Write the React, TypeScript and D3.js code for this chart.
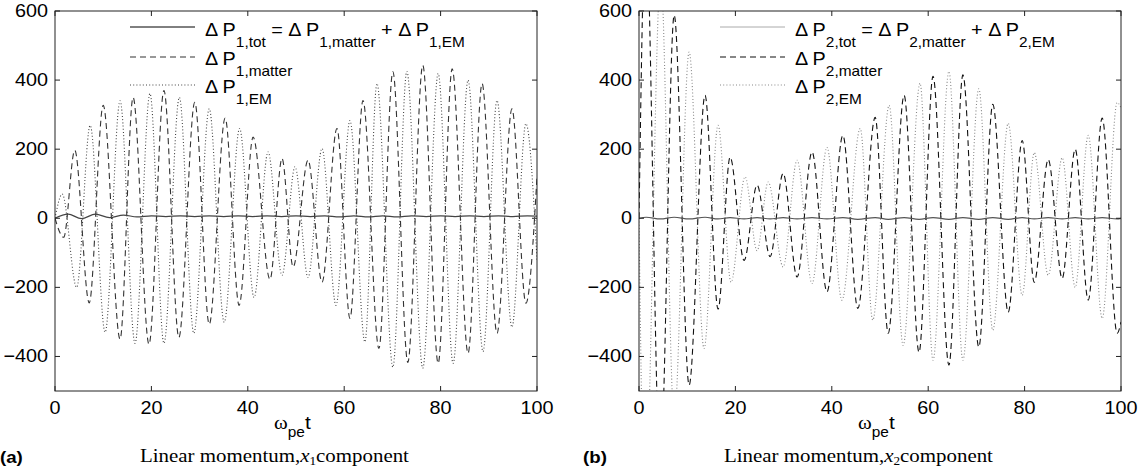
import React from "react";
import * as d3 from "d3";

const W = 1147;
const H = 470;
const SANS = "'Liberation Sans', Arial, Helvetica, sans-serif";
const SERIF = "'Liberation Serif', 'Times New Roman', serif";
const SX = 1.1; // the original is a bit stretched horizontally

const xTicks = [0, 20, 40, 60, 80, 100];
const yTicks = [-400, -200, 0, 200, 400, 600];

type Pt = [number, number];

// panel (a) – turning points, [omega_pe t, value]
const p1Tot: Pt[] = [
  [0, 0], [2.7, 12], [5.5, -1], [8.4, 12], [11.3, 2], [14.2, 9], [17, 4], [20, 7],
  [23, 5], [26, 7], [29, 5], [32, 7], [35, 5], [38, 7], [41, 5], [44, 7], [47, 5],
  [50, 7], [53, 5], [56, 7], [59, 4], [62, 7], [65, 4], [68, 7], [71, 4], [74, 7],
  [77, 5], [80, 7], [83, 5], [86, 7], [89, 5], [92, 7], [95, 5], [98, 7], [100, 6],
];
const p1Matter: Pt[] = [
  [0, 0], [1.8, -55], [4.1, 197], [7.1, -245], [10.0, 327], [13.5, -350], [16.2, 350],
  [19.5, -365], [22.6, 370], [25.7, -345], [29.0, 336], [32.0, -307], [35.3, 290],
  [38.2, -252], [41.1, 235], [44.6, -177], [47.1, 173], [49.4, -141], [52.5, 168],
  [55.4, -185], [58.5, 260], [61.2, -290], [63.9, 341], [67.2, -377], [70.1, 424],
  [73.2, -417], [76.3, 443], [79.5, -420], [82.4, 433], [85.7, -391], [88.6, 390],
  [91.7, -333], [94.8, 317], [97.7, -246], [100, 120],
];
const p1Em: Pt[] = [
  [0, 0], [1.5, 70], [4.5, -200], [7.3, 269], [10.4, -330], [13.5, 340], [16.6, -362],
  [19.7, 361], [22.6, -362], [25.8, 350], [28.8, -333], [32.0, 317], [35.1, -301],
  [38.3, 260], [41.3, -229], [44.2, 192], [47.1, -165], [49.8, 149], [52.5, -171],
  [55.4, 202], [58.3, -252], [61.2, 283], [64.3, -358], [66.8, 390], [70.1, -431],
  [73.0, 425], [76.3, -434], [79.5, 419], [82.6, -420], [85.7, 400], [88.8, -386],
  [91.7, 341], [94.8, -315], [97.7, 274], [100, -120],
];

// panel (b)
const p2Tot: Pt[] = [
  [0, 0], [1.5, 3], [4.4, -2], [7.3, 3], [10.4, -2], [13.7, 3], [16.4, -2], [18.9, 2],
  [21.8, -2], [24.5, 2], [27.2, -2], [29.9, 2], [32.8, -2], [35.9, 2], [39.0, -2],
  [42.3, 2], [45.4, -3], [49.0, 2], [51.7, -3], [55.0, 2], [58.1, -3], [61.0, 2],
  [64.3, -3], [67.2, 2], [70.5, -3], [73.4, 2], [76.6, -3], [79.5, 2], [82.0, -2],
  [84.9, 2], [87.8, -2], [90.5, 2], [93.2, -2], [96.1, 2], [99.2, -2], [100, 0],
];
const p2Matter: Pt[] = [
  [0, 0], [1.4, 850], [4.4, -720], [7.3, 588], [10.4, -483], [13.7, 356], [16.4, -263],
  [18.9, 177], [21.8, -122], [24.5, 96], [27.2, -111], [29.9, 130], [32.8, -170],
  [35.9, 192], [39.0, -213], [42.3, 240], [45.4, -261], [49.0, 292], [51.7, -333],
  [55.0, 356], [58.1, -388], [61.0, 411], [64.3, -425], [67.2, 415], [70.5, -373],
  [73.4, 330], [76.6, -272], [79.5, 225], [82.0, -185], [84.9, 170], [87.8, -174],
  [90.5, 200], [93.2, -237], [96.1, 290], [99.2, -333], [100, -300],
];
const p2Em: Pt[] = [
  [0, 0], [1.2, -850], [4.5, 700], [7.3, -580], [10.4, 481], [13.5, -377], [16.4, 269],
  [19.1, -185], [22.0, 120], [24.5, -94], [26.8, 105], [29.9, -141], [32.8, 168],
  [35.9, -189], [39.0, 205], [42.1, -237], [45.9, 260], [48.5, -295], [51.9, 327],
  [54.8, -368], [58.3, 391], [61.0, -411], [64.3, 425], [67.2, -411], [70.5, 375],
  [73.4, -324], [76.6, 275], [79.5, -223], [82.0, 190], [84.9, -165], [87.8, 175],
  [90.5, -200], [93.2, 240], [96.1, -290], [99.2, 335], [100, 320],
];

const TOP = 11;
const BOTTOM = 391;

const panels = [
  {
    id: "a", idx: "1", left: 55, right: 537, tag: "(a)", tagX: 0,
    tot: p1Tot, matter: p1Matter, em: p1Em,
    totColor: "#444", totLegend: "#000", dashColor: "#333", dotColor: "#444",
    legX: 130, capX: 140,
  },
  {
    id: "b", idx: "2", left: 639, right: 1121, tag: "(b)", tagX: 583,
    tot: p2Tot, matter: p2Matter, em: p2Em,
    totColor: "#555", totLegend: "#aaa", dashColor: "#111", dotColor: "#888",
    legX: 720, capX: 724,
  },
];

type Part = { s: string; sub?: boolean };

const SubText = ({ x, y, parts, size = 18, subSize = 14, shift = 11 }:
  { x: number; y: number; parts: Part[]; size?: number; subSize?: number; shift?: number }) => {
  let prevSub = false;
  return (
    <text transform={`translate(${x},${y}) scale(${SX},1)`} fontFamily={SANS} fontSize={size}
      style={{ whiteSpace: "pre" }} fill="#000">
      {parts.map((p, i) => {
        const dy = p.sub && !prevSub ? shift : !p.sub && prevSub ? -shift : 0;
        prevSub = !!p.sub;
        return (
          <tspan key={i} dy={dy} fontSize={p.sub ? subSize : size}>{p.s}</tspan>
        );
      })}
    </text>
  );
};

const Panel = ({ p }: { p: (typeof panels)[number] }) => {
  const x = d3.scaleLinear().domain([0, 100]).range([p.left, p.right]);
  const y = d3.scaleLinear().domain([-500, 600]).range([BOTTOM, TOP]);
  const line = d3.line<Pt>().x((d) => x(d[0])).y((d) => y(d[1])).curve(d3.curveMonotoneX);
  const fmt = (v: number) => (v < 0 ? "\u2212" + Math.abs(v) : String(v));
  const cx = (p.left + p.right) / 2;
  const i = p.idx;
  const legend = [
    { y: 27, tb: 36, dash: undefined, color: p.totLegend, w: 1,
      parts: [{ s: "\u0394 P" }, { s: `${i},tot`, sub: true }, { s: " = \u0394 P" },
        { s: `${i},matter`, sub: true }, { s: " + \u0394 P" }, { s: `${i},EM`, sub: true }] },
    { y: 57, tb: 65, dash: "6,4", color: p.dashColor, w: 1.1,
      parts: [{ s: "\u0394 P" }, { s: `${i},matter`, sub: true }] },
    { y: 85, tb: 93, dash: "1,2.2", color: p.dotColor, w: 1.1,
      parts: [{ s: "\u0394 P" }, { s: `${i},EM`, sub: true }] },
  ];
  return (
    <g>
      <defs>
        <clipPath id={`clip-${p.id}`}>
          <rect x={p.left} y={TOP} width={p.right - p.left} height={BOTTOM - TOP} />
        </clipPath>
      </defs>
      <g clipPath={`url(#clip-${p.id})`} fill="none">
        <path d={line(p.em) ?? ""} stroke={p.dotColor} strokeWidth={1.1} strokeDasharray="1,2.2" />
        <path d={line(p.matter) ?? ""} stroke={p.dashColor} strokeWidth={1.1} strokeDasharray="6,4" />
        <path d={line(p.tot) ?? ""} stroke={p.totColor} strokeWidth={1.2} />
      </g>
      <rect x={p.left} y={TOP} width={p.right - p.left} height={BOTTOM - TOP}
        fill="none" stroke="#222" strokeWidth={1} />
      {xTicks.map((t) => (
        <g key={`x${t}`}>
          <line x1={x(t)} x2={x(t)} y1={BOTTOM} y2={BOTTOM - 5} stroke="#222" />
          <line x1={x(t)} x2={x(t)} y1={TOP} y2={TOP + 5} stroke="#222" />
          <text transform={`translate(${x(t)},${BOTTOM + 23}) scale(${SX},1)`} textAnchor="middle"
            fontFamily={SANS} fontSize={18}>{t}</text>
        </g>
      ))}
      {yTicks.map((v) => (
        <g key={`y${v}`}>
          <line x1={p.left} x2={p.left + 5} y1={y(v)} y2={y(v)} stroke="#222" />
          <line x1={p.right} x2={p.right - 5} y1={y(v)} y2={y(v)} stroke="#222" />
          <text transform={`translate(${p.left - 7},${y(v) + 6}) scale(${SX},1)`} textAnchor="end"
            fontFamily={SANS} fontSize={18}>{fmt(v)}</text>
        </g>
      ))}
      {legend.map((l, k) => (
        <g key={k}>
          <line x1={p.legX} x2={p.legX + 65} y1={l.y} y2={l.y} stroke={l.color}
            strokeWidth={l.w} strokeDasharray={l.dash} />
          <SubText x={p.legX + 75} y={l.tb} parts={l.parts} />
        </g>
      ))}
      <text transform={`translate(${cx - 22},429) scale(${SX},1)`} fontSize={18} style={{ whiteSpace: "pre" }}>
        <tspan fontFamily={SERIF} fontSize={19}>{"\u03c9"}</tspan>
        <tspan fontFamily={SANS} fontSize={14} dy={8}>pe</tspan>
        <tspan fontFamily={SANS} fontSize={19} dy={-8}>t</tspan>
      </text>
      <text transform={`translate(${p.tagX},463) scale(${SX},1)`} fontFamily={SANS} fontWeight="bold"
        fontSize={17}>{p.tag}</text>
      <text transform={`translate(${p.capX},462) scale(${SX},1)`} fontFamily={SERIF} fontSize={19}
        style={{ whiteSpace: "pre" }}>
        <tspan>{"Linear momentum,"}</tspan>
        <tspan fontStyle="italic">{"x"}</tspan>
        <tspan fontSize={12} dy={3}>{p.idx}</tspan>
        <tspan dy={-3}>{"component"}</tspan>
      </text>
    </g>
  );
};

export default function App() {
  return (
    <svg width={W} height={H} viewBox={`0 0 ${W} ${H}`}
      style={{ position: "absolute", left: 0, top: 0, background: "#fff" }}>
      <rect width={W} height={H} fill="#fff" />
      {panels.map((p) => <Panel key={p.id} p={p} />)}
    </svg>
  );
}
